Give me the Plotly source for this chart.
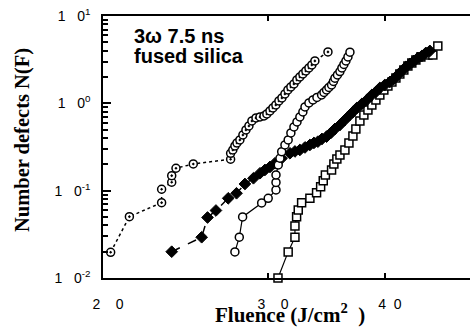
import plotly.graph_objects as go

# ---- data ----
# Series A: open circles with centre dot, dotted line
a_fluence = [20.38, 21.34, 23.10, 23.10, 23.68, 23.68, 23.93, 24.97, 27.37, 27.37,
             27.52, 27.66, 27.80, 28.00, 28.21, 28.42, 28.63, 28.84, 29.13, 29.42,
             29.71, 29.92, 30.15, 30.37, 30.59, 30.82, 31.05, 31.28, 31.51, 31.74,
             31.98, 32.21, 32.45, 32.69, 32.93, 33.18, 33.42, 33.67, 34.77]
a_defects = [0.0197, 0.0504, 0.0729, 0.1038, 0.1248, 0.1485, 0.1806, 0.2023, 0.229, 0.268,
             0.2925, 0.325, 0.352, 0.381, 0.4345, 0.4958, 0.551, 0.6286, 0.6805, 0.6986,
             0.7173, 0.756, 0.818, 0.886, 0.959, 1.065, 1.153, 1.281, 1.424, 1.541,
             1.668, 1.854, 2.006, 2.172, 2.350, 2.544, 2.754, 3.060, 3.880]

# Series B: filled diamonds, dashed line
b_fluence = [23.68, 25.49, 25.86, 26.40, 27.21, 27.77, 28.35, 28.95, 29.42, 29.78,
             30.15, 30.52, 31.03, 31.67, 32.06, 32.45, 32.86, 33.26, 33.59, 33.92,
             34.26, 34.65, 35.02, 35.37, 35.81, 36.25, 36.70, 36.97, 37.33, 37.79,
             38.26, 38.73, 39.12, 39.50, 39.99, 40.49, 40.89, 41.29, 41.70, 42.11,
             42.53, 42.95, 43.37, 43.80, 44.23, 44.67]
b_defects = [0.0200, 0.0293, 0.0493, 0.0593, 0.0818, 0.0934, 0.1193, 0.1387, 0.1583, 0.1726,
             0.1869, 0.2060, 0.2351, 0.2682, 0.2813, 0.2926, 0.3125, 0.3338, 0.3519, 0.3642,
             0.3911, 0.4155, 0.4581, 0.5091, 0.5658, 0.6455, 0.7366, 0.7972, 0.8859, 0.9845,
             1.094, 1.248, 1.351, 1.501, 1.625, 1.759, 1.904, 2.115, 2.351, 2.612,
             2.827, 3.060, 3.312, 3.491, 3.779, 3.983]

# Series C: open circles, solid line
c_fluence = [27.66, 27.96, 28.19, 29.54, 30.02, 30.60, 30.60, 30.60, 30.77, 30.90,
             31.03, 31.28, 31.53, 31.74, 31.98, 32.22, 32.45, 32.69, 32.86, 33.18,
             33.51, 33.84, 34.23, 34.43, 34.65, 34.85, 35.08, 35.24, 35.37, 35.59,
             35.81, 35.98, 36.16, 36.34, 36.52, 36.70]
c_defects = [0.0199, 0.0293, 0.0500, 0.0723, 0.0818, 0.1019, 0.1241, 0.1513, 0.1970, 0.2351,
             0.2798, 0.3338, 0.3809, 0.4581, 0.5367, 0.6123, 0.6987, 0.7972, 0.9096, 1.011,
             1.094, 1.169, 1.248, 1.333, 1.424, 1.521, 1.625, 1.782, 1.939, 2.115,
             2.308, 2.544, 2.790, 3.060, 3.401, 3.850]

# Series D: open squares, solid line
d_fluence = [30.75, 31.53, 32.06, 32.06, 32.19, 32.32, 32.59, 33.26, 33.81, 34.15,
             34.37, 34.55, 35.08, 35.28, 35.54, 35.81, 36.25, 36.61, 36.97, 37.24,
             37.61, 37.98, 38.36, 38.73, 39.12, 39.50, 39.89, 40.29, 40.69, 41.09,
             41.49, 41.90, 42.32, 42.73, 43.16, 43.69, 44.45, 45.00, 45.55]
d_defects = [0.0100, 0.0199, 0.0293, 0.0394, 0.0504, 0.0601, 0.0729, 0.0818, 0.0949, 0.1111,
             0.1302, 0.1513, 0.1726, 0.2023, 0.2308, 0.2564, 0.2926, 0.3519, 0.4233, 0.5091,
             0.6287, 0.7366, 0.8404, 0.9588, 1.094, 1.248, 1.424, 1.583, 1.759, 1.954,
             2.172, 2.413, 2.682, 2.903, 3.142, 3.401, 3.585, 3.585, 4.545]

x_tickvals = [20, 30, 40]
x_ticktext = ["2\u00a0\u00a0\u00a0\u00a00", "3\u00a0\u00a0\u00a0\u00a00", "4\u00a0\u00a00"]
y_tickvals = [0.01, 0.1, 1, 10]
y_ticktext = ["1\u00a0\u00a0\u00a00<sup>-2</sup>", "1\u00a0\u00a0\u00a00<sup>-1</sup>",
              "1\u00a0\u00a0\u00a00<sup>0</sup>", "1\u00a0\u00a0\u00a00<sup>1</sup>"]
y_minor_vals = [m * d for d in (0.01, 0.1, 1) for m in range(2, 10)]

fig = go.Figure()

fig.add_trace(go.Scatter(
    x=d_fluence, y=d_defects, mode="lines+markers", cliponaxis=False,
    line=dict(color="black", width=1.2),
    marker=dict(symbol="square", size=8, color="white", line=dict(color="black", width=1.5))))

fig.add_trace(go.Scatter(
    x=b_fluence, y=b_defects, mode="lines+markers",
    line=dict(color="black", width=1.5, dash="dash"),
    marker=dict(symbol="diamond", size=9, color="black", line=dict(color="black", width=1))))

fig.add_trace(go.Scatter(
    x=c_fluence, y=c_defects, mode="lines+markers",
    line=dict(color="black", width=1.2),
    marker=dict(symbol="circle", size=8, color="white", line=dict(color="black", width=1.5))))

fig.add_trace(go.Scatter(
    x=a_fluence, y=a_defects, mode="lines+markers",
    line=dict(color="black", width=1.5, dash="dot"),
    marker=dict(symbol="circle-dot", size=8, color="white", line=dict(color="black", width=1.5))))

# invisible helper trace so the overlaid minor-tick axis is drawn
fig.add_trace(go.Scatter(x=[25], y=[1], yaxis="y2", mode="markers",
                         marker=dict(opacity=0, size=1), hoverinfo="skip"))

tick_font = dict(family="Liberation Sans", size=14, color="black")

fig.update_xaxes(
    type="log", range=[1.30103, 1.69285],
    tickmode="array", tickvals=x_tickvals, ticktext=x_ticktext,
    ticks="inside", ticklen=5, tickwidth=1.5, tickcolor="black",
    showline=True, linecolor="black", linewidth=1.5, mirror="ticks",
    showgrid=False, zeroline=False, tickfont=tick_font,
    ticklabelstandoff=12, ticklabelshift=5)

fig.update_layout(
    yaxis=dict(
        type="log", range=[-2, 1],
        tickmode="array", tickvals=y_tickvals, ticktext=y_ticktext,
        ticks="inside", ticklen=8, tickwidth=1.5, tickcolor="black",
        showline=True, linecolor="black", linewidth=1.5, mirror=False,
        showgrid=False, zeroline=False, tickfont=tick_font,
        ticklabelstandoff=8),
    yaxis2=dict(
        type="log", range=[-2, 1], overlaying="y", side="left", anchor="x",
        tickmode="array", tickvals=y_minor_vals,
        ticks="inside", ticklen=5, tickwidth=1.5, tickcolor="black",
        showticklabels=False, showline=False, showgrid=False, zeroline=False),
)

ann_font = dict(family="Liberation Sans", size=20, color="black")
serif_font = dict(family="Liberation Serif", size=21, color="black")

fig.update_layout(
    width=470, height=328,
    margin=dict(l=103, r=0, t=16, b=50, autoexpand=False),
    paper_bgcolor="white", plot_bgcolor="white",
    showlegend=False,
    annotations=[
        dict(text="<b>3\u03c9 7.5 ns</b>", xref="paper", yref="paper", x=0.0790, y=0.922,
             xanchor="left", yanchor="middle", showarrow=False, font=ann_font),
        dict(text="<b>fused silica</b>", xref="paper", yref="paper", x=0.0790, y=0.846,
             xanchor="left", yanchor="middle", showarrow=False, font=ann_font),
        dict(text="<b>Fluence (J/cm<sup>2</sup>\u00a0\u00a0)</b>", xref="paper", yref="paper",
             x=0.2997, y=-0.135, xanchor="left", yanchor="middle", showarrow=False,
             font=serif_font),
        dict(text="<b>Number defects N(F)</b>", xref="paper", yref="paper",
             x=-0.2193, y=0.5248, xanchor="center", yanchor="middle", textangle=-90,
             showarrow=False, font=dict(family="Liberation Serif", size=20.5, color="black")),
    ],
)

fig.write_html("out.html", config={"displayModeBar": False},
               post_script="document.body.style.margin='0';document.body.style.padding='0';")
